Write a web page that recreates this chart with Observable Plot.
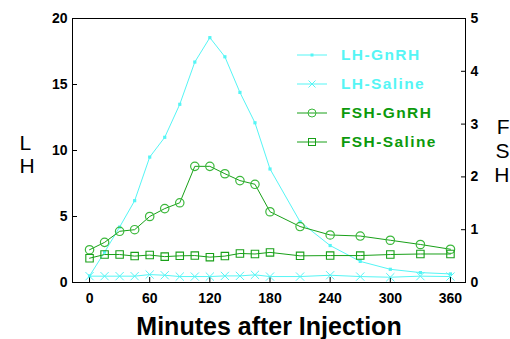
<!DOCTYPE html>
<html>
<head>
<meta charset="utf-8">
<script src="https://cdn.jsdelivr.net/npm/d3@7"></script>
<script src="https://cdn.jsdelivr.net/npm/@observablehq/plot@0.6"></script>
<style>
  body { margin: 0; background: #fff; }
  #chart { position: relative; width: 510px; height: 339px; overflow: hidden;
           font-family: "Liberation Sans", Arial, sans-serif; }
  #legend { position: absolute; left: 297px; top: 40px; }
  .row { display: flex; align-items: center; height: 29px; font-weight: bold; font-size: 15.5px; letter-spacing: 1.4px; }
  .row svg { margin-right: 14px; }
</style>
</head>
<body>
<div id="chart"></div>
<script>
// Sampling times (minutes after injection)
const minutes = [0, 15, 30, 45, 60, 75, 90, 105, 120, 135, 150, 165, 180, 210, 240, 270, 300, 330, 360];
// LH (left axis)
const lhGnrh   = [0.5, 2.3, 4.2, 6.2, 9.5, 11.0, 13.5, 16.7, 18.55, 17.1, 14.4, 12.1, 8.6, 4.6, 2.8, 1.6, 1.0, 0.75, 0.65];
const lhSaline = [0.48, 0.48, 0.48, 0.48, 0.6, 0.55, 0.45, 0.45, 0.45, 0.5, 0.5, 0.58, 0.45, 0.45, 0.55, 0.45, 0.4, 0.48, 0.45];
// FSH (right axis)
const fshGnrh   = [0.62, 0.76, 0.97, 1.0, 1.25, 1.40, 1.51, 2.2, 2.2, 2.06, 1.93, 1.86, 1.34, 1.06, 0.9, 0.88, 0.8, 0.72, 0.63];
const fshSaline = [0.46, 0.53, 0.53, 0.50, 0.52, 0.49, 0.505, 0.51, 0.48, 0.50, 0.55, 0.54, 0.57, 0.505, 0.51, 0.51, 0.53, 0.54, 0.54];

const xTicks = [0, 60, 120, 180, 240, 300, 360];
const lhTicks = [0, 5, 10, 15, 20];
const fshTicks = [0, 1, 2, 3, 4, 5];
const seriesNames = ["LH-GnRH", "LH-Saline", "FSH-GnRH", "FSH-Saline"];

const cyan = "#55f5f5";
const green = "#18a018";
const greenMark = "#3cb83c";
const fshScale = 4; // FSH 0–5 shares the LH 0–20 range

const rows = (vals, k = 1) => minutes.map((t, i) => ({t, v: vals[i] * k}));
const lhG = rows(lhGnrh), lhS = rows(lhSaline);
const fsG = rows(fshGnrh, fshScale), fsS = rows(fshSaline, fshScale);

const chart = Plot.plot({
  width: 510,
  height: 339,
  marginLeft: 72,
  marginRight: 45,
  marginTop: 18,
  marginBottom: 57,
  x: {domain: [-17, 375]},
  y: {domain: [0, 20]},
  style: {fontFamily: "'Liberation Sans', Arial, sans-serif", fontSize: "14px", fontWeight: "bold", color: "#000", background: "#fff"},
  marks: [
    Plot.frame({stroke: "#000"}),
    Plot.axisX({ticks: xTicks, tickSize: -5, tickPadding: 16, label: null}),
    Plot.axisY({ticks: lhTicks, anchor: "left", tickSize: -5, tickPadding: 10, label: null}),
    Plot.axisY({ticks: fshTicks.map(d => d * fshScale), tickFormat: d => d / fshScale, anchor: "right", tickSize: -5, tickPadding: 10, label: null}),
    // Series lines
    Plot.line(lhG, {x: "t", y: "v", stroke: cyan, strokeWidth: 1}),
    Plot.line(lhS, {x: "t", y: "v", stroke: cyan, strokeWidth: 1}),
    Plot.line(fsG, {x: "t", y: "v", stroke: green, strokeWidth: 1}),
    Plot.line(fsS, {x: "t", y: "v", stroke: green, strokeWidth: 1}),
    // Markers
    Plot.dot(lhG, {x: "t", y: "v", symbol: "square", fill: cyan, r: 1.8}),
    Plot.dot(lhS, {x: "t", y: "v", symbol: "times", stroke: cyan, r: 3.8, strokeWidth: 1}),
    Plot.dot(fsG, {x: "t", y: "v", symbol: "circle", stroke: greenMark, r: 4.2, strokeWidth: 1.2}),
    Plot.dot(fsS, {x: "t", y: "v", symbol: "square", stroke: green, r: 4.2, strokeWidth: 1.1}),
    // Axis titles
    Plot.text(["Minutes after Injection"], {frameAnchor: "bottom", dy: 44, fontSize: 25, fontWeight: "bold", lineAnchor: "middle"}),
    Plot.text(["L\nH"], {frameAnchor: "left", dx: -53, dy: 4, fontSize: 21, fontWeight: "normal", lineHeight: 1.1}),
    Plot.text(["F\nS\nH"], {frameAnchor: "right", dx: 44, dy: 0, fontSize: 21, fontWeight: "normal", lineHeight: 1.15})
  ]
});

const container = document.getElementById("chart");
container.appendChild(chart);

// Legend: one row per series, with a short line and its marker
const legend = d3.select(container).append("div").attr("id", "legend");
const legendStyle = {
  "LH-GnRH":   {color: cyan,  text: cyan,      symbol: "fsq"},
  "LH-Saline": {color: cyan,  text: cyan,      symbol: "x"},
  "FSH-GnRH":  {color: green, text: "#0c9a0c", symbol: "circle"},
  "FSH-Saline":{color: green, text: "#0c9a0c", symbol: "sq"}
};
for (const name of seriesNames) {
  const s = legendStyle[name];
  const row = legend.append("div").attr("class", "row");
  const svg = row.append("svg").attr("width", 30).attr("height", 12);
  svg.append("line").attr("x1", 0).attr("x2", 30).attr("y1", 6).attr("y2", 6).attr("stroke", s.color);
  if (s.symbol === "fsq") svg.append("rect").attr("x", 13.5).attr("y", 4.5).attr("width", 3).attr("height", 3).attr("fill", s.color);
  if (s.symbol === "x") svg.append("path").attr("d", "M11.5,2.5L18.5,9.5M18.5,2.5L11.5,9.5").attr("stroke", s.color);
  if (s.symbol === "circle") svg.append("circle").attr("cx", 15).attr("cy", 6).attr("r", 4).attr("fill", "none").attr("stroke", greenMark);
  if (s.symbol === "sq") svg.append("rect").attr("x", 11.5).attr("y", 2.5).attr("width", 7).attr("height", 7).attr("fill", "none").attr("stroke", s.color);
  row.append("span").style("color", s.text).text(name);
}
</script>
</body>
</html>
